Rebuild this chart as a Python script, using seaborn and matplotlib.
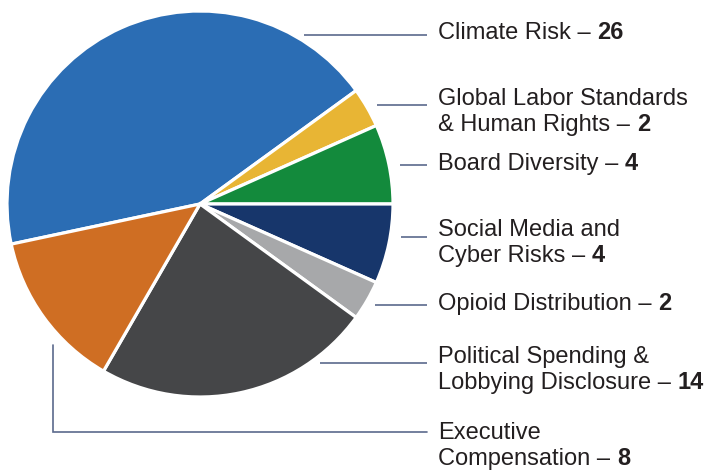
import numpy as np
import matplotlib
matplotlib.use("Agg")
import matplotlib.pyplot as plt
import seaborn as sns

# Shareholder proposal topics and counts
categories = [
    "Climate Risk",
    "Global Labor Standards\n& Human Rights",
    "Board Diversity",
    "Social Media and\nCyber Risks",
    "Opioid Distribution",
    "Political Spending &\nLobbying Disclosure",
    "Executive\nCompensation",
]
counts = [26, 2, 4, 4, 2, 14, 8]
slice_colors = ["#2b6db4", "#e8b534", "#138a3c", "#17366b", "#a7a8aa", "#454648", "#cf6e23"]

# Label layout (pixel rows measured from the top of the figure)
leader_rows = [35, 105, 165, 237, 305, 363, 432]
text_rows = [33, 99, 164, 230, 304, 357, 433]
line_gap = 26

sns.set_theme(style="white")
plt.rcParams["font.family"] = ["Liberation Sans", "DejaVu Sans"]

W, H = 709, 471
fig = plt.figure(figsize=(W / 100, H / 100), dpi=100)
ax = fig.add_axes([0, 0, 1, 1])

cx, cy, r = 200, H - 204, 193
wedges, _ = ax.pie(
    counts,
    colors=slice_colors,
    startangle=192,
    counterclock=False,
    center=(cx, cy),
    radius=r,
    wedgeprops=dict(edgecolor="white", linewidth=2.3),
)
ax.set_xlim(0, W)
ax.set_ylim(0, H)
ax.set_aspect("auto")
ax.axis("off")

line_color = "#5b6a8c"
text_color = "#231f20"
text_x = 438
line_end = 427
fs = 17

for i, (name, val) in enumerate(zip(categories, counts)):
    ly = H - leader_rows[i]
    if i < len(categories) - 1:
        dy = ly - cy
        x0 = cx + np.sqrt(max(r**2 - dy**2, 0)) + 11
        ax.plot([x0, line_end], [ly, ly], color=line_color, lw=1.2, solid_capstyle="butt")
    else:
        # elbow leader from under the orange slice
        vx = 53
        y_top = cy - np.sqrt(r**2 - (vx - cx) ** 2) - 16
        ax.plot([vx, vx, line_end], [y_top, ly, ly], color=line_color, lw=1.2,
                solid_joinstyle="miter")

    lines = name.split("\n")
    for j, ln in enumerate(lines):
        ty = H - (text_rows[i] + j * line_gap)
        last = j == len(lines) - 1
        t = ax.text(text_x, ty, ln + (" – " if last else ""), fontsize=fs,
                    color=text_color, va="center", ha="left")
        if last:
            ax.annotate(str(val), xy=(1, 0), xycoords=t, va="bottom", ha="left",
                        fontsize=fs, fontweight="bold", color=text_color)

fig.savefig("out.png", dpi=100)
